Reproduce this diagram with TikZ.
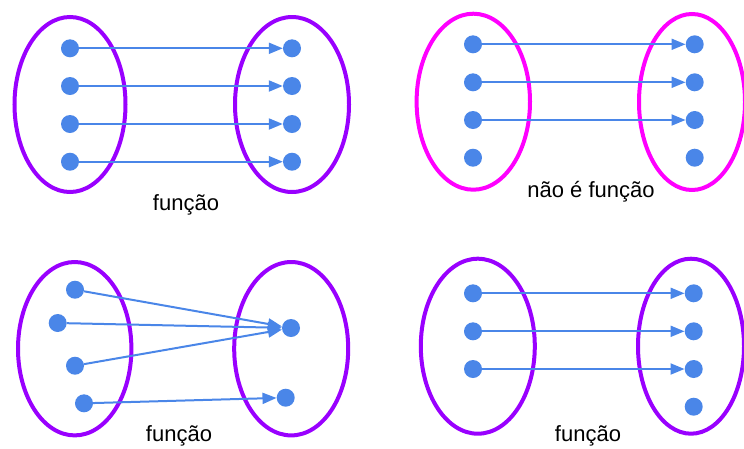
\documentclass[tikz,border=0pt]{standalone}
\usepackage{fontspec}
\setmainfont{Liberation Sans}
\usetikzlibrary{arrows.meta}
\definecolor{dotblue}{HTML}{4A86E8}
\definecolor{setpurple}{HTML}{9900FF}
\definecolor{setmagenta}{HTML}{FF00FF}
\begin{document}
\begin{tikzpicture}[x=1pt,y=-1pt,
  pt/.style={circle,fill=dotblue,minimum size=18pt,inner sep=0pt},
  setp/.style={draw=setpurple,line width=4pt},
  setm/.style={draw=setmagenta,line width=4pt},
  maparrow/.style={draw=dotblue,line width=2pt,-{Triangle[length=14pt,width=11pt]}},
  lbl/.style={anchor=base,font=\fontsize{22}{26}\selectfont,inner sep=0pt}]
\useasboundingbox (0,0) rectangle (744,448);
% ---------- panel 1 ----------
\draw[setp] (70,104.5) ellipse [x radius=55.5,y radius=87.5];
\draw[setp] (292,104.5) ellipse [x radius=57,y radius=87.5];
\foreach \i/\y in {1/48.3,2/86,3/124,4/161.7}{
  \node[pt] (a\i) at (70,\y) {};
  \node[pt] (b\i) at (292,\y) {};
  \draw[maparrow] (a\i) -- (b\i);
}
\node[lbl] (l1) at (186,210.7) {função};
% ---------- panel 2 ----------
\draw[setm] (473.3,101.7) ellipse [x radius=56.7,y radius=88];
\draw[setm] (692,102) ellipse [x radius=53,y radius=88];
\foreach \i/\y in {1/44.3,2/82.3,3/120,4/157.7}{
  \node[pt] (c\i) at (473,\y) {};
  \node[pt] (d\i) at (694.7,\y) {};
}
\foreach \i in {1,2,3}{\draw[maparrow] (c\i) -- (d\i);}
\node[lbl] (l2) at (591,197.3) {não é função};
% ---------- panel 3 ----------
\draw[setp] (74.7,348.7) ellipse [x radius=56.7,y radius=86.7];
\draw[setp] (291.2,348.7) ellipse [x radius=57,y radius=86.7];
\node[pt] (e1) at (75,289.7) {};
\node[pt] (e2) at (57.7,323) {};
\node[pt] (e3) at (75,365.7) {};
\node[pt] (e4) at (84,403.3) {};
\node[pt] (f1) at (291,328) {};
\node[pt] (f2) at (285.7,397.7) {};
\draw[maparrow] (e1) -- (f1);
\draw[maparrow] (e2) -- (f1);
\draw[maparrow] (e3) -- (f1);
\draw[maparrow] (e4) -- (f2);
\node[lbl] (l3) at (179,441.5) {função};
% ---------- panel 4 ----------
\draw[setp] (477.8,346.2) ellipse [x radius=57,y radius=87.5];
\draw[setp] (691,346.2) ellipse [x radius=53,y radius=87.5];
\foreach \i/\y in {1/293.3,2/331.3,3/369}{
  \node[pt] (g\i) at (473,\y) {};
  \node[pt] (h\i) at (693.7,\y) {};
  \draw[maparrow] (g\i) -- (h\i);
}
\node[pt] (h4) at (693.7,406.7) {};
\node[lbl] (l4) at (588,441.5) {função};
\end{tikzpicture}
\end{document}
